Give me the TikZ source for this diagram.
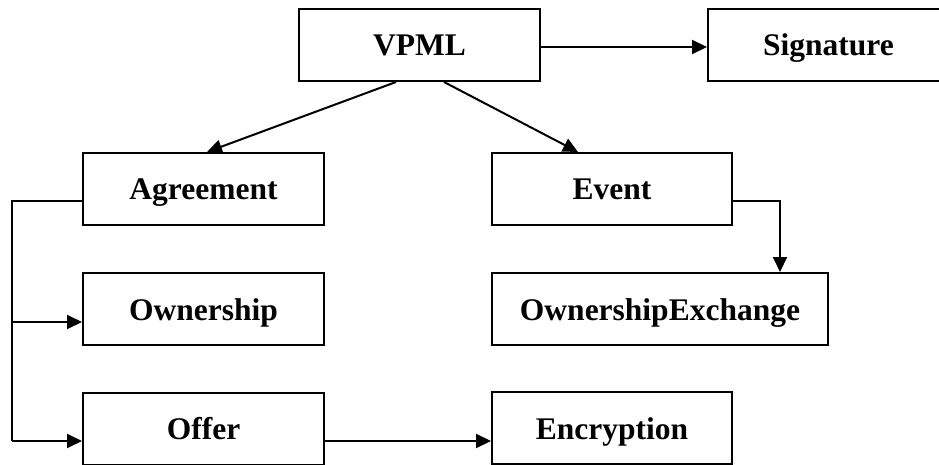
\documentclass[tikz,border=0pt]{standalone}
\usepackage{fontspec}
\setmainfont{Liberation Serif}
\usetikzlibrary{arrows.meta}
\begin{document}
\begin{tikzpicture}[x=1pt,y=-1pt,
  box/.style={draw,line width=2pt,inner sep=0pt,minimum height=72pt,
    font=\fontsize{31.5}{36}\selectfont\bfseries,text height=22pt,text depth=0pt},
  conn/.style={line width=2pt},
  arr/.style={conn,-{Triangle[length=15pt,width=14pt]}}]
\useasboundingbox (0,0) rectangle (939,465);
\node[box,minimum width=241pt] (VPML) at (419.5,45) {VPML};
\node[box,minimum width=261pt] (Signature) at (838.5,45) {\hspace*{-20pt}Signature};
\node[box,minimum width=241pt] (Agreement) at (203.5,189) {Agreement};
\node[box,minimum width=240pt] (Event) at (612,189) {Event};
\node[box,minimum width=241pt] (Ownership) at (203.5,309) {Ownership};
\node[box,minimum width=336pt] (OwnershipExchange) at (660,309) {OwnershipExchange};
\node[box,minimum width=241pt] (Offer) at (203.5,428.5) {Offer};
\node[box,minimum width=240pt] (Encryption) at (612,428) {Encryption};
\coordinate (L1) at (12,201);
\coordinate (L2) at (12,322);
\coordinate (L3) at (12,441);
\coordinate (R1) at (780,201);
\draw[arr] ([yshift=-2pt]VPML.east) -- ([yshift=-2pt]Signature.west);
\draw[arr] ([xshift=-23.5pt]VPML.south) -- ([xshift=3.5pt]Agreement.north);
\draw[arr] ([xshift=24.5pt]VPML.south) -- ([xshift=-34pt]Event.north);
\draw[conn] ([yshift=-12pt]Agreement.west) -- (L1) -- (L3);
\draw[arr] (L2) -- (Ownership.west |- L2);
\draw[arr] (L3) -- (Offer.west |- L3);
\draw[arr] (Event.east |- R1) -- (R1) -- (R1 |- OwnershipExchange.north);
\draw[arr] (Offer.east |- L3) -- (Encryption.west |- L3);
\end{tikzpicture}
\end{document}
